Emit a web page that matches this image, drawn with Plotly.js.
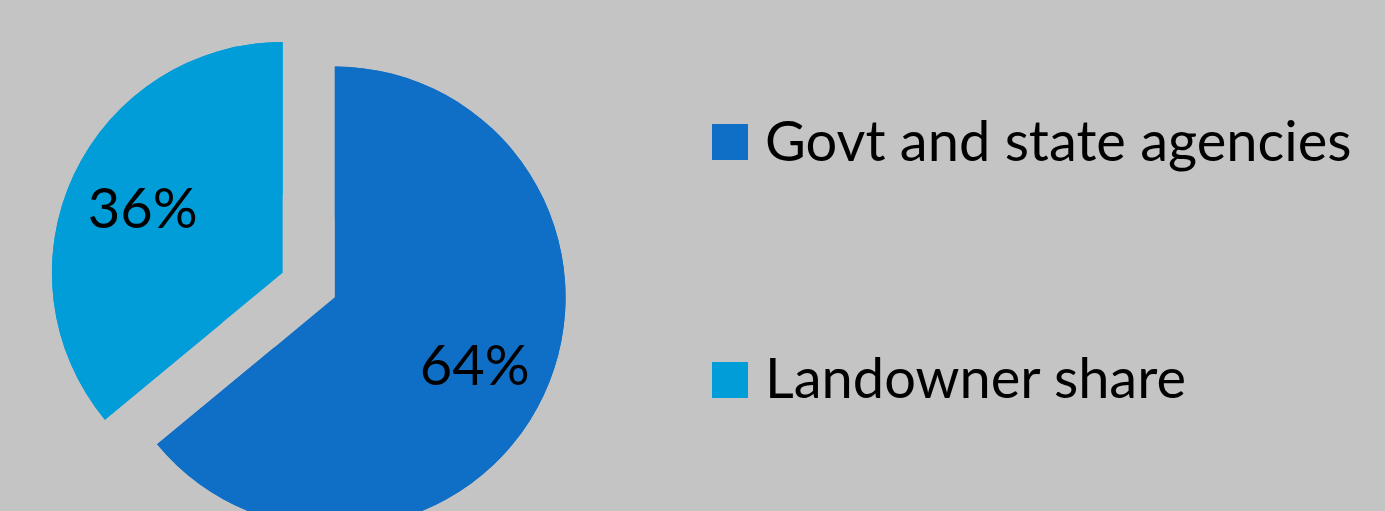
<!DOCTYPE html>
<html><head><meta charset="utf-8">
<script src="https://cdn.plot.ly/plotly-3.0.1.min.js"></script>
<style>html,body{margin:0;padding:0;overflow:hidden;background:#c4c4c4;width:1385px;height:511px}</style>
</head><body><div id="chart"></div>
<script>
// Data
const labels = ["Govt and state agencies", "Landowner share"];
const values = [64, 36];
const colors = ["#0F6FC6", "#009DD9"];

const W = 1385, H = 570;
const FONT = "Lato, 'Open Sans', sans-serif";
const FS = 56;
const px = (x) => x / W;
const py = (y) => 1 - y / H;

const common = {
  type: 'pie',
  labels: labels,
  values: values,
  sort: false,
  direction: 'clockwise',
  rotation: 0,
  pull: values.map(() => 0.125),
  marker: {colors: colors, line: {width: 0}},
  domain: {x: [px(49.2), px(568.3)], y: [0, 1]},
  hoverinfo: 'skip',
  showlegend: false
};

const baseTrace = Object.assign({}, common, {textinfo: 'none'});
const labelTrace = Object.assign({}, common, {
  hole: 0.34,
  textinfo: 'percent',
  textposition: 'inside',
  insidetextorientation: 'horizontal',
  textfont: {family: FONT, size: FS, color: '#000000'}
});

const textY = [139, 377];
const boxY = [142, 380];
const annotations = labels.map((t, i) => ({
  text: t, xref: 'paper', yref: 'paper', x: px(763), y: py(textY[i]),
  xanchor: 'left', yanchor: 'middle', showarrow: false,
  font: {family: FONT, size: FS, color: '#000000'}
}));
const shapes = labels.map((t, i) => ({
  type: 'rect', xref: 'paper', yref: 'paper',
  x0: px(712), x1: px(748), y0: py(boxY[i] - 18), y1: py(boxY[i] + 18),
  fillcolor: colors[i], line: {width: 0}
}));

const layout = {
  width: W, height: H,
  margin: {l: 0, r: 0, t: 0, b: 0},
  paper_bgcolor: '#c4c4c4',
  plot_bgcolor: '#c4c4c4',
  showlegend: false,
  annotations: annotations,
  shapes: shapes
};

Plotly.newPlot('chart', [baseTrace, labelTrace], layout, {displayModeBar: false, staticPlot: true});
</script>
</body></html>
